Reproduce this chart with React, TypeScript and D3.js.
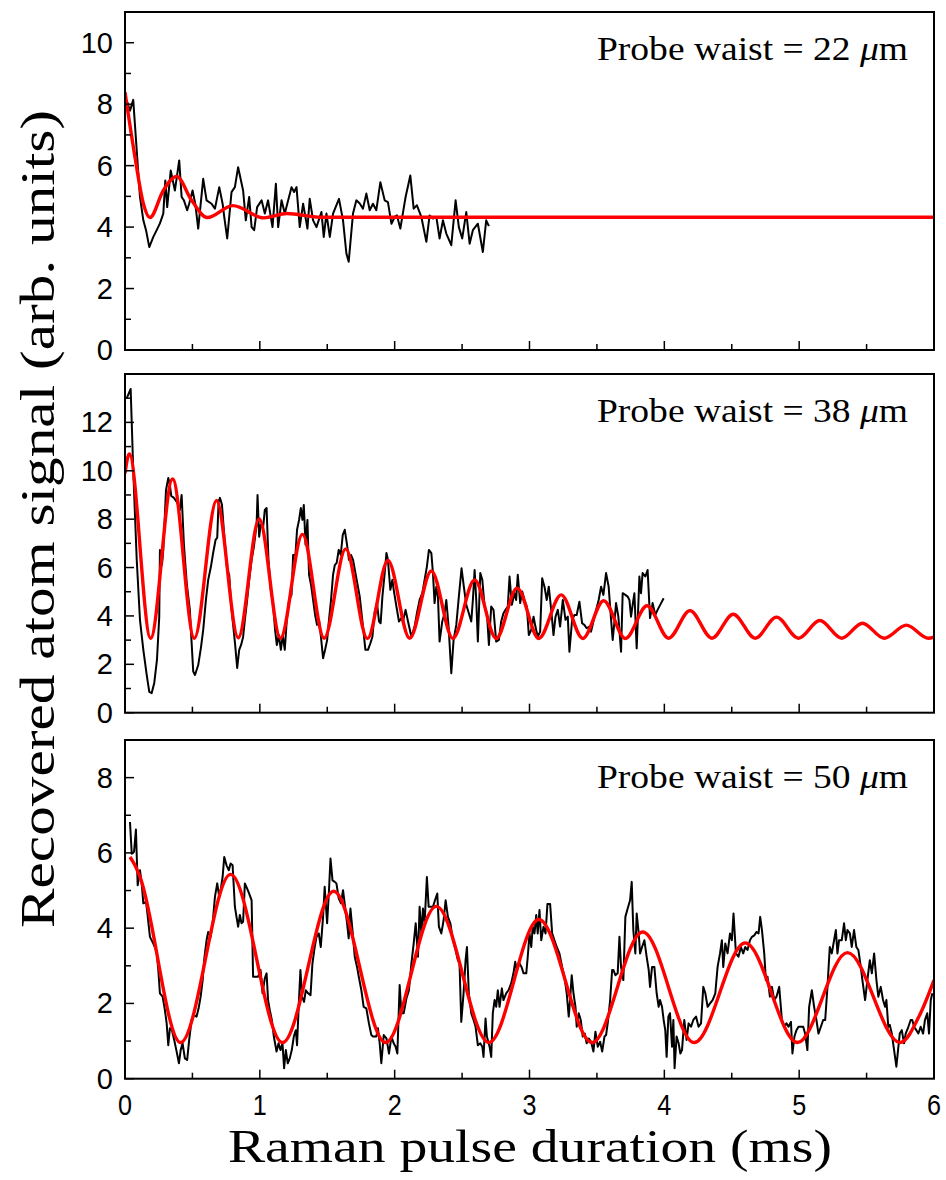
import React from 'react';
import * as d3 from 'd3';

// ---- Data: Raman pulse duration (ms) vs recovered atom signal (arb. units) ----
const xTicks = [0, 1, 2, 3, 4, 5, 6];
const xMinorTicks = [0.5, 1.5, 2.5, 3.5, 4.5, 5.5];
const waistLabels = ['22', '38', '50'];

const waist22Signal: [number, number][] = [
  [0.013, 8.12], [0.037, 7.79], [0.061, 8.14], [0.111, 4.98], [0.136, 4.22], [0.156, 3.9], [0.18, 3.35], [0.21, 3.68],
  [0.235, 3.9], [0.259, 4.12], [0.284, 4.44], [0.299, 5.52], [0.313, 4.65], [0.339, 5.84], [0.37, 5.19], [0.402, 6.17],
  [0.42, 4.98], [0.437, 4.87], [0.461, 4.55], [0.476, 4.76], [0.501, 5.19], [0.521, 4.76], [0.543, 3.95], [0.58, 5.57],
  [0.605, 4.87], [0.642, 4.76], [0.667, 4.6], [0.699, 5.3], [0.724, 4.76], [0.736, 4.33], [0.758, 3.63], [0.79, 5.14],
  [0.815, 5.3], [0.839, 5.95], [0.876, 5.19], [0.896, 4.22], [0.921, 4.98], [0.939, 4.0], [0.958, 3.9], [0.98, 4.65],
  [1.013, 4.87], [1.037, 4.44], [1.061, 4.87], [1.094, 4.0], [1.119, 5.41], [1.136, 4.0], [1.161, 4.87], [1.185, 4.44],
  [1.235, 5.3], [1.254, 5.14], [1.272, 5.3], [1.296, 4.0], [1.321, 4.76], [1.353, 3.95], [1.37, 4.92], [1.395, 4.22],
  [1.42, 4.0], [1.457, 4.49], [1.474, 3.68], [1.494, 4.44], [1.519, 3.68], [1.543, 4.44], [1.587, 4.92], [1.617, 4.22],
  [1.642, 3.14], [1.659, 2.87], [1.691, 4.44], [1.716, 4.87], [1.741, 4.77], [1.765, 4.6], [1.79, 5.09], [1.815, 4.55],
  [1.839, 4.76], [1.864, 4.55], [1.894, 5.46], [1.926, 4.87], [1.95, 4.81], [1.976, 4.11], [2.0, 4.33], [2.017, 4.38],
  [2.042, 3.95], [2.081, 4.98], [2.116, 5.68], [2.141, 4.6], [2.165, 4.71], [2.198, 4.33], [2.235, 3.52], [2.259, 4.38],
  [2.284, 4.28], [2.309, 4.33], [2.333, 3.63], [2.358, 4.22], [2.383, 3.79], [2.42, 3.41], [2.452, 4.87], [2.476, 4.0],
  [2.501, 3.63], [2.531, 4.49], [2.556, 3.46], [2.58, 3.9], [2.617, 4.11], [2.654, 3.19], [2.679, 4.22], [2.699, 4.03],
];

const waist22Fit: [number, number][] = [
  [0, 8.39], [0.074, 6.28], [0.136, 4.77], [0.185, 4.31], [0.284, 5.19], [0.383, 5.65], [0.494, 4.87], [0.61, 4.31],
  [0.8, 4.7], [1.03, 4.3], [1.2, 4.44], [1.45, 4.32], [6.0, 4.32],
];

const waist38Signal: [number, number][] = [
  [0.013, 13.0], [0.042, 13.38], [0.061, 10.04], [0.087, 6.32], [0.111, 3.84], [0.136, 2.6], [0.161, 1.56], [0.18, 0.86],
  [0.198, 0.81], [0.217, 1.23], [0.237, 2.18], [0.254, 3.96], [0.259, 6.73], [0.274, 6.1], [0.284, 6.73], [0.304, 9.2],
  [0.321, 9.7], [0.333, 9.41], [0.343, 8.96], [0.363, 8.88], [0.387, 8.68], [0.407, 8.38], [0.42, 9.0], [0.437, 6.94],
  [0.459, 5.28], [0.481, 4.25], [0.493, 3.0], [0.506, 1.7], [0.519, 1.56], [0.543, 1.97], [0.563, 2.68], [0.58, 3.42],
  [0.6, 4.66], [0.617, 5.49], [0.637, 6.03], [0.654, 6.61], [0.672, 7.15], [0.684, 7.23], [0.694, 8.72], [0.704, 8.88],
  [0.719, 8.6], [0.733, 7.56], [0.748, 6.5], [0.758, 5.9], [0.773, 5.7], [0.787, 4.46], [0.802, 3.63], [0.817, 2.8],
  [0.832, 1.85], [0.847, 2.6], [0.861, 2.8], [0.876, 3.13], [0.889, 3.84], [0.906, 4.66], [0.921, 5.49], [0.939, 6.32],
  [0.956, 6.86], [0.976, 7.77], [0.983, 9.0], [0.995, 7.27], [1.007, 7.77], [1.024, 7.64], [1.037, 8.38], [1.05, 8.46],
  [1.064, 6.32], [1.081, 5.08], [1.099, 4.46], [1.113, 3.42], [1.126, 2.8], [1.141, 3.21], [1.156, 2.6], [1.17, 3.21],
  [1.185, 2.6], [1.2, 3.84], [1.217, 4.66], [1.235, 4.87], [1.247, 6.52], [1.264, 6.52], [1.276, 7.56], [1.291, 7.97],
  [1.304, 8.46], [1.316, 7.97], [1.326, 8.59], [1.339, 6.94], [1.353, 7.97], [1.365, 5.7], [1.38, 5.28], [1.395, 4.66],
  [1.41, 4.04], [1.424, 3.63], [1.439, 3.84], [1.454, 3.09], [1.469, 2.25], [1.484, 2.6], [1.499, 3.0], [1.513, 3.84],
  [1.528, 4.66], [1.543, 5.7], [1.556, 6.1], [1.57, 6.19], [1.585, 6.73], [1.6, 6.52], [1.615, 7.35], [1.63, 7.56],
  [1.647, 6.94], [1.661, 6.32], [1.676, 6.52], [1.691, 6.32], [1.741, 4.8], [1.765, 3.56], [1.783, 2.6], [1.802, 2.6],
  [1.82, 2.87], [1.835, 3.14], [1.852, 4.18], [1.869, 4.53], [1.884, 3.77], [1.896, 3.7], [1.909, 4.8], [1.926, 5.77],
  [1.939, 6.6], [1.95, 6.32], [1.968, 5.08], [1.983, 5.49], [1.993, 5.08], [2.013, 4.39], [2.032, 3.77], [2.05, 3.91],
  [2.061, 3.77], [2.081, 4.25], [2.099, 3.77], [2.124, 3.14], [2.148, 3.56], [2.165, 4.11], [2.185, 4.66], [2.205, 4.94],
  [2.222, 5.49], [2.239, 6.04], [2.254, 6.73], [2.272, 6.6], [2.284, 5.77], [2.296, 4.53], [2.309, 5.21], [2.321, 4.8],
  [2.333, 2.94], [2.353, 3.77], [2.37, 4.11], [2.383, 4.66], [2.4, 3.56], [2.42, 1.63], [2.437, 3.01], [2.457, 3.63],
  [2.476, 4.8], [2.496, 5.97], [2.513, 5.21], [2.531, 4.46], [2.55, 4.11], [2.568, 3.77], [2.58, 4.66], [2.593, 5.9],
  [2.605, 4.66], [2.617, 2.94], [2.635, 5.77], [2.65, 5.49], [2.667, 4.39], [2.684, 4.11], [2.699, 2.8], [2.716, 4.39],
  [2.733, 4.25], [2.753, 2.94], [2.773, 3.01], [2.79, 3.77], [2.807, 4.11], [2.822, 4.25], [2.839, 4.39], [2.852, 5.63],
  [2.869, 4.46], [2.889, 4.94], [2.901, 4.66], [2.913, 5.7], [2.931, 4.53], [2.946, 5.01], [2.963, 4.66], [2.98, 4.39],
  [2.995, 3.21], [3.013, 3.42], [3.03, 3.97], [3.044, 3.56], [3.061, 3.14], [3.079, 3.35], [3.094, 5.56], [3.111, 5.21],
  [3.128, 4.66], [3.143, 5.21], [3.161, 4.25], [3.178, 3.21], [3.193, 3.97], [3.21, 4.25], [3.227, 3.56], [3.247, 4.66],
  [3.267, 3.84], [3.284, 3.97], [3.296, 2.52], [3.316, 3.84], [3.333, 4.04], [3.35, 4.04], [3.37, 4.59], [3.39, 3.7],
  [3.407, 3.63], [3.424, 3.49], [3.444, 3.56], [3.456, 3.35], [3.474, 3.77], [3.494, 4.25], [3.513, 4.66], [3.531, 5.21],
  [3.548, 4.87], [3.568, 5.77], [3.587, 5.21], [3.605, 3.84], [3.617, 3.01], [3.63, 3.77], [3.642, 4.53], [3.659, 3.97],
  [3.679, 2.52], [3.691, 4.94], [3.711, 4.87], [3.728, 4.8], [3.741, 4.66], [3.753, 3.97], [3.765, 4.46], [3.778, 4.94],
  [3.795, 2.66], [3.815, 5.63], [3.827, 4.94], [3.839, 5.77], [3.859, 5.63], [3.876, 5.9], [3.894, 3.91], [3.913, 4.53],
  [3.933, 4.04], [3.95, 4.25], [3.976, 4.53], [3.995, 4.73],
];

const waist38Fit: [number, number][] = [
  [0, 9.9], [0.032, 10.7], [0.19, 3.08], [0.353, 9.66], [0.514, 3.08], [0.679, 8.77], [0.84, 3.1], [0.995, 8.01],
  [1.153, 3.08], [1.316, 7.37], [1.477, 3.08], [1.637, 6.77], [1.798, 3.06], [1.95, 6.29], [2.111, 3.08], [2.272, 5.86],
  [2.432, 3.07], [2.593, 5.49], [2.753, 3.07], [2.908, 5.15], [3.069, 3.07], [3.235, 4.87], [3.395, 3.07], [3.55, 4.63],
  [3.711, 3.07], [3.872, 4.42], [4.032, 3.08], [4.19, 4.22], [4.353, 3.08], [4.511, 4.07], [4.674, 3.08], [4.832, 3.95],
  [4.995, 3.08], [5.153, 3.81], [5.316, 3.08], [5.469, 3.7], [5.63, 3.08], [5.795, 3.62], [5.958, 3.08], [6.0, 3.12],
];

const waist50Signal: [number, number][] = [
  [0.037, 6.82], [0.05, 5.98], [0.067, 6.03], [0.081, 6.62], [0.094, 5.14], [0.111, 5.54], [0.124, 5.19], [0.136, 4.66],
  [0.156, 4.7], [0.165, 4.43], [0.185, 3.77], [0.21, 3.59], [0.235, 3.37], [0.247, 2.89], [0.259, 2.27], [0.279, 2.18],
  [0.296, 1.82], [0.309, 1.47], [0.321, 0.89], [0.333, 1.34], [0.348, 1.29], [0.365, 1.03], [0.383, 0.72], [0.4, 0.41],
  [0.413, 0.76], [0.427, 0.94], [0.444, 0.54], [0.461, 0.5], [0.476, 1.03], [0.494, 1.56], [0.511, 1.69], [0.531, 1.65],
  [0.546, 1.87], [0.561, 2.18], [0.576, 2.62], [0.587, 3.15], [0.605, 3.68], [0.617, 3.9], [0.635, 3.77], [0.65, 4.13],
  [0.667, 4.83], [0.684, 5.19], [0.699, 4.83], [0.711, 5.05], [0.724, 5.36], [0.736, 5.89], [0.753, 5.67], [0.77, 5.54],
  [0.783, 5.72], [0.798, 5.67], [0.815, 4.57], [0.827, 4.3], [0.839, 4.04], [0.852, 4.35], [0.864, 4.13], [0.876, 4.17],
  [0.889, 5.19], [0.906, 5.05], [0.921, 4.92], [0.939, 4.74], [0.95, 2.71], [0.97, 2.71], [0.987, 2.71], [1.005, 2.89],
  [1.02, 2.27], [1.037, 2.67], [1.05, 2.8], [1.061, 2.09], [1.074, 1.82], [1.089, 1.56], [1.104, 1.12], [1.124, 0.72],
  [1.139, 0.94], [1.153, 0.76], [1.168, 0.94], [1.18, 0.28], [1.193, 0.76], [1.207, 0.41], [1.222, 0.54], [1.237, 0.76],
  [1.252, 1.12], [1.267, 1.29], [1.276, 0.89], [1.289, 2.0], [1.301, 2.89], [1.313, 2.18], [1.328, 2.04], [1.341, 2.35],
  [1.358, 2.27], [1.376, 2.22], [1.39, 3.06], [1.407, 3.5], [1.42, 3.77], [1.437, 3.86], [1.452, 3.5], [1.469, 4.3],
  [1.481, 5.1], [1.499, 4.13], [1.513, 5.01], [1.524, 5.85], [1.539, 5.27], [1.556, 5.23], [1.568, 5.19], [1.585, 4.79],
  [1.602, 4.66], [1.617, 5.01], [1.632, 4.57], [1.647, 4.13], [1.659, 3.73], [1.672, 4.52], [1.687, 3.95], [1.704, 3.24],
  [1.721, 2.97], [1.736, 2.67], [1.753, 2.35], [1.77, 1.91], [1.79, 1.87], [1.809, 1.47], [1.827, 1.16], [1.839, 1.12],
  [1.864, 1.12], [1.876, 1.34], [1.889, 0.94], [1.901, 0.41], [1.919, 1.16], [1.939, 1.07], [1.958, 0.67], [1.976, 1.12],
  [1.993, 0.94], [2.007, 0.85], [2.02, 0.67], [2.037, 2.49], [2.05, 1.74], [2.067, 1.74], [2.087, 2.13], [2.106, 2.35],
  [2.124, 3.06], [2.141, 3.59], [2.156, 4.13], [2.173, 3.24], [2.185, 4.57], [2.198, 3.86], [2.21, 4.52], [2.222, 4.13],
  [2.239, 5.36], [2.252, 4.57], [2.264, 4.57], [2.284, 4.57], [2.299, 4.74], [2.316, 4.92], [2.328, 4.04], [2.346, 3.86],
  [2.363, 4.21], [2.378, 4.74], [2.395, 4.3], [2.413, 4.13], [2.432, 3.68], [2.452, 3.42], [2.469, 3.15], [2.481, 3.06],
  [2.494, 1.51], [2.511, 2.27], [2.526, 3.15], [2.536, 3.5], [2.55, 2.27], [2.568, 1.74], [2.585, 1.56], [2.6, 1.38],
  [2.617, 0.89], [2.635, 0.94], [2.65, 0.85], [2.659, 0.58], [2.674, 1.6], [2.684, 1.12], [2.704, 0.85], [2.716, 0.58],
  [2.728, 1.74], [2.741, 2.09], [2.753, 1.91], [2.765, 2.35], [2.778, 1.91], [2.795, 2.4], [2.807, 2.09], [2.827, 2.27],
  [2.844, 2.35], [2.864, 2.53], [2.881, 2.8], [2.894, 3.11], [2.906, 2.89], [2.926, 3.06], [2.941, 2.97], [2.956, 2.8],
  [2.976, 2.8], [2.987, 3.24], [3.0, 3.86], [3.013, 3.5], [3.024, 4.04], [3.037, 3.86], [3.05, 4.35], [3.061, 3.86],
  [3.074, 4.48], [3.087, 3.68], [3.104, 4.04], [3.119, 3.86], [3.133, 4.64], [3.153, 4.64], [3.168, 3.86], [3.185, 3.68],
  [3.202, 3.5], [3.222, 3.33], [3.242, 2.97], [3.259, 2.71], [3.276, 2.27], [3.291, 1.65], [3.301, 2.09], [3.313, 2.75],
  [3.326, 2.27], [3.341, 1.91], [3.35, 1.38], [3.365, 1.74], [3.38, 1.56], [3.395, 1.12], [3.41, 1.2], [3.424, 0.94],
  [3.439, 1.07], [3.457, 0.98], [3.474, 0.72], [3.489, 1.25], [3.506, 0.85], [3.524, 0.98], [3.539, 0.72], [3.556, 1.12],
  [3.568, 1.16], [3.583, 1.56], [3.598, 2.09], [3.613, 2.89], [3.622, 2.89], [3.637, 2.75], [3.654, 2.8], [3.667, 3.77],
  [3.679, 2.97], [3.696, 2.62], [3.711, 4.3], [3.728, 4.52], [3.746, 4.74], [3.758, 5.23], [3.77, 3.95], [3.785, 3.33],
  [3.795, 4.39], [3.81, 3.86], [3.82, 3.33], [3.835, 3.5], [3.852, 3.68], [3.869, 3.24], [3.884, 2.89], [3.894, 2.44],
  [3.909, 2.97], [3.926, 2.97], [3.943, 2.27], [3.958, 1.91], [3.968, 2.09], [3.983, 1.91], [3.995, 1.56], [4.007, 1.29],
  [4.017, 0.58], [4.03, 1.65], [4.042, 1.74], [4.057, 0.85], [4.067, 1.56], [4.076, 0.28], [4.091, 1.12], [4.106, 0.94],
  [4.119, 0.67], [4.131, 0.76], [4.148, 1.56], [4.165, 1.03], [4.18, 1.47], [4.198, 1.38], [4.215, 1.56], [4.235, 1.65],
  [4.254, 1.38], [4.272, 1.47], [4.289, 2.44], [4.304, 2.27], [4.321, 1.91], [4.339, 2.0], [4.358, 2.09], [4.378, 2.27],
  [4.395, 2.97], [4.413, 3.33], [4.427, 3.68], [4.437, 2.97], [4.452, 3.59], [4.469, 3.33], [4.487, 3.86], [4.501, 3.68],
  [4.513, 4.39], [4.531, 3.33], [4.55, 3.24], [4.568, 3.5], [4.585, 3.33], [4.6, 3.5], [4.617, 3.42], [4.635, 3.68],
  [4.65, 3.77], [4.667, 3.81], [4.684, 3.9], [4.699, 3.86], [4.711, 4.3], [4.724, 3.95], [4.741, 3.33], [4.753, 2.62],
  [4.765, 2.71], [4.783, 2.18], [4.798, 2.44], [4.815, 2.09], [4.832, 2.18], [4.852, 2.44], [4.872, 1.56], [4.889, 1.38],
  [4.906, 1.47], [4.921, 1.38], [4.939, 1.51], [4.95, 0.67], [4.965, 1.12], [4.98, 1.29], [4.995, 1.38], [5.013, 1.38],
  [5.03, 1.38], [5.044, 1.2], [5.061, 0.76], [5.074, 1.91], [5.094, 2.35], [5.111, 1.91], [5.128, 1.56], [5.143, 1.2],
  [5.161, 1.38], [5.178, 1.56], [5.193, 1.56], [5.21, 2.44], [5.227, 3.5], [5.242, 3.33], [5.259, 3.68], [5.272, 3.95],
  [5.284, 3.33], [5.296, 3.68], [5.316, 3.68], [5.333, 4.13], [5.346, 3.68], [5.358, 3.95], [5.376, 3.86], [5.39, 3.5],
  [5.407, 3.95], [5.424, 3.5], [5.439, 3.42], [5.457, 2.97], [5.469, 2.62], [5.489, 2.09], [5.506, 2.62], [5.524, 3.15],
  [5.539, 2.8], [5.556, 3.33], [5.573, 2.62], [5.587, 2.18], [5.605, 2.44], [5.622, 2.09], [5.637, 1.91], [5.647, 2.09],
  [5.661, 1.38], [5.672, 1.43], [5.687, 1.2], [5.704, 0.76], [5.721, 0.32], [5.736, 0.85], [5.746, 1.2], [5.761, 1.29],
  [5.778, 0.94], [5.79, 1.2], [5.81, 1.38], [5.827, 1.56], [5.839, 1.56], [5.852, 1.38], [5.869, 1.29], [5.884, 1.2],
  [5.901, 1.38], [5.919, 1.2], [5.933, 1.56], [5.95, 1.74], [5.963, 1.2], [5.976, 2.09], [5.988, 2.27],
];

const waist50Fit: [number, number][] = [
  [0.037, 5.89], [0.074, 5.67], [0.111, 5.36], [0.412, 0.96], [0.783, 5.43], [1.168, 0.96], [1.548, 4.98], [1.933, 0.96],
  [2.309, 4.58], [2.699, 0.96], [3.069, 4.23], [3.464, 0.96], [3.84, 3.9], [4.222, 0.96], [4.6, 3.61], [4.988, 0.96],
  [5.358, 3.35], [5.748, 0.96], [5.9, 1.74], [6.0, 2.62],
];

const panelYMax = [11, 14, 9];

// ---- Layout ----
const W = 946;
const H = 1180;
const LEFT = 125;
const RIGHT = 934;
const panelBox = [
  { top: 12, bottom: 350 },
  { top: 374, bottom: 712.7 },
  { top: 740, bottom: 1078.7 },
];
const seriesSets = [
  { data: waist22Signal, fit: waist22Fit },
  { data: waist38Signal, fit: waist38Fit },
  { data: waist50Signal, fit: waist50Fit },
];

const tickFont = '"Liberation Sans", Arial, Helvetica, sans-serif';
const serifFont = '"Liberation Serif", "Times New Roman", serif';

const x = d3.scaleLinear().domain([0, 6]).range([LEFT, RIGHT]);

function Panel({ idx }: { idx: number }) {
  const { top, bottom } = panelBox[idx];
  const yMax = panelYMax[idx];
  const y = d3.scaleLinear().domain([0, yMax]).range([bottom, top]);
  const { data, fit } = seriesSets[idx];
  const dataLine = d3
    .line<[number, number]>()
    .x((d) => x(d[0]))
    .y((d) => y(d[1]))
    .curve(d3.curveLinear);
  const fitLine = d3
    .line<[number, number]>()
    .x((d) => x(d[0]))
    .y((d) => y(d[1]))
    .curve(d3.curveMonotoneX);
  const majors = d3.range(0, yMax, 2);
  const minors = d3.range(1, yMax, 2);
  const clipId = `clip-${idx}`;
  const isBottom = idx === 2;
  return (
    <g>
      <defs>
        <clipPath id={clipId}>
          <rect x={LEFT} y={top} width={RIGHT - LEFT} height={bottom - top} />
        </clipPath>
      </defs>
      <g clipPath={`url(#${clipId})`}>
        <path d={dataLine(data) || ''} fill="none" stroke="#000" strokeWidth={2} strokeLinejoin="round" />
        <path d={fitLine(fit) || ''} fill="none" stroke="#ff0000" strokeWidth={3.4} strokeLinejoin="round" />
      </g>
      {majors.map((v) => (
        <g key={`ym${v}`}>
          <line x1={LEFT} x2={LEFT + 9} y1={y(v)} y2={y(v)} stroke="#000" strokeWidth={1.5} />
          <text
            x={LEFT - 12}
            y={y(v)}
            textAnchor="end"
            dominantBaseline="central"
            fontFamily={tickFont}
            fontSize={29}
            fill="#000"
          >
            {v}
          </text>
        </g>
      ))}
      {minors.map((v) => (
        <line key={`yn${v}`} x1={LEFT} x2={LEFT + 6} y1={y(v)} y2={y(v)} stroke="#000" strokeWidth={1.5} />
      ))}
      {xTicks.map((t) => (
        <g key={`xm${t}`}>
          <line x1={x(t)} x2={x(t)} y1={bottom} y2={bottom - 9} stroke="#000" strokeWidth={1.5} />
          {isBottom && (
            <text
              x={x(t)}
              y={bottom + 26}
              textAnchor="middle"
              dominantBaseline="central"
              fontFamily={tickFont}
              fontSize={30}
              textLength={14}
              lengthAdjust="spacingAndGlyphs"
              fill="#000"
            >
              {t}
            </text>
          )}
        </g>
      ))}
      {xMinorTicks.map((t) => (
        <line key={`xn${t}`} x1={x(t)} x2={x(t)} y1={bottom} y2={bottom - 6} stroke="#000" strokeWidth={1.5} />
      ))}
      <rect x={LEFT} y={top} width={RIGHT - LEFT} height={bottom - top} fill="none" stroke="#000" strokeWidth={2} />
      <text
        x={908}
        y={top + 48}
        textAnchor="end"
        fontFamily={serifFont}
        fontSize={33}
        fill="#000"
        textLength={311}
        lengthAdjust="spacingAndGlyphs"
      >
        {`Probe waist = ${waistLabels[idx]} `}
        <tspan fontStyle="italic">μ</tspan>
        m
      </text>
    </g>
  );
}

export default function App() {
  return (
    <svg
      width={W}
      height={H}
      viewBox={`0 0 ${W} ${H}`}
      style={{ position: 'absolute', left: 0, top: 0, background: '#fff' }}
    >
      <rect x={0} y={0} width={W} height={H} fill="#fff" />
      {[0, 1, 2].map((i) => (
        <Panel key={i} idx={i} />
      ))}
      <text
        x={530}
        y={1162}
        textAnchor="middle"
        fontFamily={serifFont}
        fontSize={47}
        fill="#000"
        textLength={604}
        lengthAdjust="spacingAndGlyphs"
      >
        Raman pulse duration (ms)
      </text>
      <text
        transform="translate(54,519) rotate(-90)"
        textAnchor="middle"
        fontFamily={serifFont}
        fontSize={48}
        fill="#000"
        textLength={818}
        lengthAdjust="spacingAndGlyphs"
      >
        Recovered atom signal (arb. units)
      </text>
    </svg>
  );
}
